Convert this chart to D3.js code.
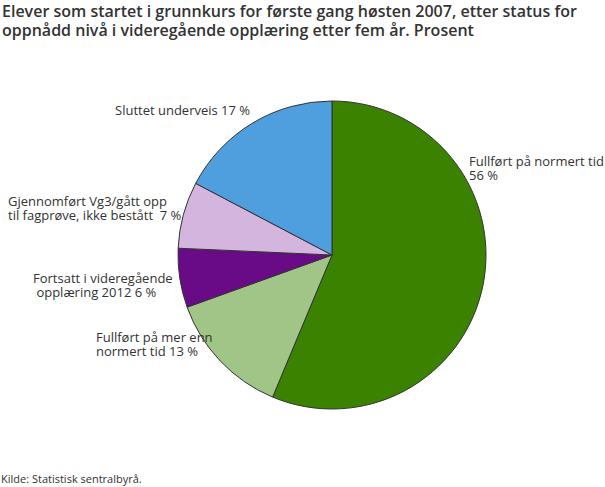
<!DOCTYPE html>
<html>
<head>
<meta charset="utf-8">
<script src="https://cdn.jsdelivr.net/npm/d3@7"></script>
<style>
  body { margin: 0; background: #fff; }
  svg text { font-family: "Open Sans", sans-serif; fill: #333; }
</style>
</head>
<body>
<div id="chart"></div>
<script>
//Data
var titleLines = [
    "Elever som startet i grunnkurs for første gang høsten 2007, etter status for",
    "oppnådd nivå i videregående opplæring etter fem år. Prosent"
];
var categories = [
    "Fullført på normert tid",
    "Fullført på mer enn normert tid",
    "Fortsatt i videregående opplæring 2012",
    "Gjennomført Vg3/gått opp til fagprøve, ikke bestått",
    "Sluttet underveis"
];
var values = [56.3, 13.2, 6.2, 7.0, 17.3];
var labelLines = [
    ["Fullført på normert tid", "56 %"],
    ["Fullført på mer enn", "normert tid 13 %"],
    ["Fortsatt i videregående", " opplæring 2012 6 %"],
    ["Gjennomført Vg3/gått opp", "til fagprøve, ikke bestått  7 %"],
    ["Sluttet underveis 17 %"]
];
var colors = ["#3a8200", "#a0c586", "#690b87", "#d3b5dd", "#4f9fdf"];
var source = "Kilde: Statistisk sentralbyrå.";

//Layout
var chart = {
    width: 605,
    height: 487,
    cx: 332,
    cy: 255,
    radius: 154,
    lineHeight: 14,
    //baseline of first line of each label block
    labelPos: [[469, 166], [96, 342], [33, 283], [8, 206], [115, 115]],
    init() {
        this.svg = d3.select("#chart")
            .append("svg")
            .attr("width", this.width)
            .attr("height", this.height);
    },
    drawTitle() {
        this.svg.append("g")
            .selectAll("text")
            .data(titleLines)
            .join("text")
            .attr("x", 2)
            .attr("y", (d, i) => 17 + i * 19)
            .style("font-size", "16px")
            .style("font-weight", "600")
            .text(d => d);
    },
    drawPie() {
        const pie = d3.pie().sort(null).value(d => d);
        const arc = d3.arc().innerRadius(0).outerRadius(this.radius);
        const g = this.svg.append("g")
            .attr("transform", `translate(${this.cx},${this.cy})`);
        g.selectAll("path")
            .data(pie(values))
            .join("path")
            .attr("d", arc)
            .attr("fill", (d, i) => colors[i])
            .attr("stroke", "#333")
            .attr("stroke-width", 1)
            .attr("stroke-linejoin", "round");
    },
    drawLabels() {
        //One text element per line
        const lines = [];
        labelLines.forEach((block, i) => {
            block.forEach((t, j) => {
                lines.push({
                    t: t,
                    x: this.labelPos[i][0],
                    y: this.labelPos[i][1] + j * this.lineHeight
                });
            });
        });
        this.svg.append("g")
            .selectAll("text")
            .data(lines)
            .join("text")
            .style("font-size", "13px")
            .style("white-space", "pre")
            .attr("xml:space", "preserve")
            .attr("x", d => d.x)
            .attr("y", d => d.y)
            .text(d => d.t);
    },
    drawSource() {
        this.svg.append("text")
            .attr("x", 1)
            .attr("y", 483)
            .style("font-size", "11px")
            .text(source);
    }
};

chart.init();
chart.drawTitle();
chart.drawPie();
chart.drawLabels();
chart.drawSource();
</script>
</body>
</html>
